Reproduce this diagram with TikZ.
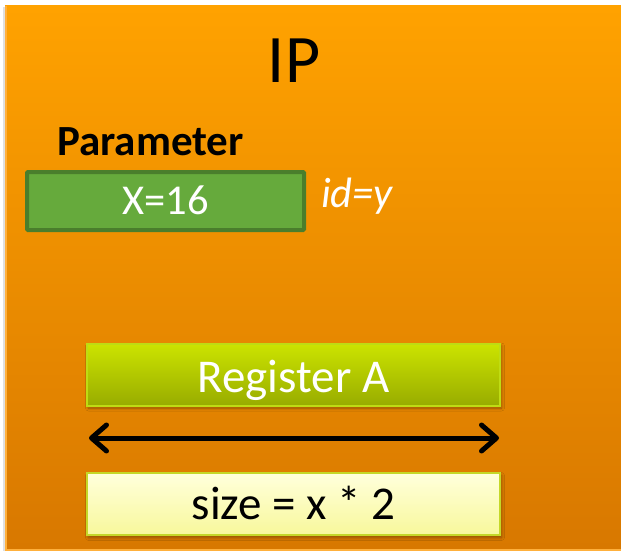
\documentclass[tikz,border=0pt]{standalone}
\usepackage{fontspec}
\setmainfont{Carlito}
\usetikzlibrary{arrows.meta,shadows.blur}

\definecolor{bgtop}{RGB}{255,162,0}
\definecolor{bgbot}{RGB}{216,120,0}
\definecolor{bgedge}{RGB}{255,176,60}
\definecolor{paramfill}{RGB}{102,170,60}
\definecolor{paramdraw}{RGB}{74,126,44}
\definecolor{regtop}{RGB}{204,228,0}
\definecolor{regbot}{RGB}{152,172,0}
\definecolor{regdraw}{RGB}{190,220,20}
\definecolor{sizetop}{RGB}{255,255,220}
\definecolor{sizebot}{RGB}{248,248,155}
\definecolor{sizedraw}{RGB}{196,216,40}

\tikzset{
  softshadow/.style={blur shadow={shadow blur steps=6, shadow xshift=1.5pt,
      shadow yshift=-2.5pt, shadow opacity=35, shadow blur radius=3pt}},
  parambox/.style={draw=paramdraw, line width=4pt, fill=paramfill,
      rounded corners=1pt, minimum width=277pt, minimum height=58pt,
      inner sep=0pt},
  regbox/.style={draw=regdraw, line width=2pt, top color=regtop, bottom color=regbot,
      minimum width=413pt, minimum height=62pt, inner sep=0pt, softshadow},
  sizebox/.style={draw=sizedraw, line width=2pt, top color=sizetop, bottom color=sizebot,
      minimum width=413pt, minimum height=62pt, inner sep=0pt, softshadow},
  label/.style={inner sep=0pt, anchor=base},
  widtharrow/.style={line width=5pt, line cap=round,
      {Straight Barb[length=15pt, width=26pt, line cap=round, line join=round]}-{Straight Barb[length=15pt, width=26pt, line cap=round, line join=round]}},
}

\begin{document}
\begin{tikzpicture}[x=1pt, y=-1pt]
  \useasboundingbox (0,0) rectangle (621,551);
  \fill[white] (0,0) rectangle (621,551);

  % background panel of the IP block
  \fill[black!12] (3,7) rectangle (6,551);
  \shade[top color=bgtop, bottom color=bgbot] (5,6) rectangle (621,549);
  \fill[bgedge] (5,6) rectangle (7,551);
  \fill[bgedge] (5,549) rectangle (621,551);

  % title and parameter
  \node[label, font=\fontsize{68}{68}\selectfont] (title) at (294,82) {IP};
  \node[label, anchor=base west, font=\bfseries\fontsize{43}{43}\selectfont] (plabel) at (57,155) {Parameter};
  \node[parambox] (param) at (165.5,201) {};
  \node[label, text=white, font=\fontsize{42.5}{42.5}\selectfont] (pval) at (param.center |- 0,214) {X=16};
  \node[label, anchor=base west, text=white, font=\itshape\fontsize{42.5}{42.5}\selectfont] (pid) at (321,207) {id=y};

  % register and its size
  \node[regbox] (reg) at (293.5,374.5) {};
  \node[label, text=white, font=\fontsize{47}{47}\selectfont] (regname) at (reg.center |- 0,392) {Register A};
  \node[sizebox] (size) at (293.5,504) {};
  \node[label, text=black, font=\fontsize{47}{47}\selectfont] (sizeexpr) at (size.center |- 0,519) {size = x * 2};

  \coordinate (arrL) at (89,438);
  \coordinate (arrR) at (499,438);
  \draw[widtharrow] (arrL) -- (arrR);
\end{tikzpicture}
\end{document}
